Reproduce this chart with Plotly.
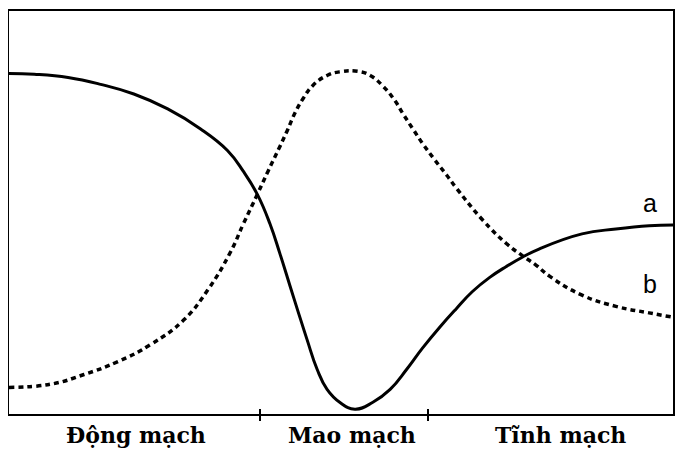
import plotly.graph_objects as go

# curve a (solid), x and y in 0..100 of the frame
a_x = [0, 3.8, 8.9, 13.8, 18.8, 23.9, 28.8, 32.9, 35.3, 37.4, 39.3, 40.8, 42.3, 43.5,
       44.9, 46.4, 47.9, 49.8, 52.1, 54.8, 57.4, 59.9, 62.3, 64.9, 67.4, 69.8, 72.4,
       74.9, 77.3, 79.9, 86.3, 91.4, 96.4, 100]
a_y = [84.5, 84.3, 83.5, 81.8, 79.4, 75.7, 70.8, 65.4, 60.2, 54.5, 47.2, 39.8, 31.9, 25.6,
       18.4, 11.1, 6.1, 2.9, 1.2, 2.9, 6.1, 11.1, 16.4, 21.6, 26.2, 30.4, 33.9,
       36.6, 38.9, 41.0, 44.7, 45.9, 46.7, 46.9]

# curve b (dotted)
b_x = [0, 6.3, 11.3, 16.4, 21.3, 26.3, 29.9, 33.3, 35.3, 37.4, 39.0, 40.8, 41.9, 43.1,
       44.3, 45.8, 47.9, 49.8, 52.6, 54.4, 56.3, 58.1, 59.3, 60.8, 62.3, 64.1, 65.9,
       67.4, 71.3, 74.9, 77.3, 79.4, 81.4, 86.3, 91.4, 96.4, 99.7]
b_y = [6.6, 7.4, 9.8, 13.0, 17.2, 23.3, 30.7, 40.0, 47.2, 54.5, 60.2, 66.4, 70.3, 74.8,
       78.3, 81.6, 84.0, 84.9, 85.0, 84.0, 81.4, 77.8, 74.6, 70.8, 67.1, 63.1, 59.3,
       56.0, 48.2, 42.3, 39.3, 36.9, 34.2, 29.5, 26.7, 25.1, 24.1]

# section boundaries and section names
bounds = [37.8, 63.1]
sections = ["Động mạch", "Mao mạch", "Tĩnh mạch"]
section_x = [19.2, 51.7, 83.0]

# curve names at the right
curve_names = ["a", "b"]
curve_name_x = [96.5, 96.5]
curve_name_y = [52.3, 32.3]

fig = go.Figure()

fig.add_trace(go.Scatter(x=a_x, y=a_y, mode="lines",
                         line=dict(color="black", width=3, shape="spline", smoothing=1.3),
                         showlegend=False, hoverinfo="skip"))
fig.add_trace(go.Scatter(x=b_x, y=b_y, mode="lines",
                         line=dict(color="black", width=3.5, dash="5px,4px", shape="spline", smoothing=1.3),
                         showlegend=False, hoverinfo="skip"))
# invisible trace on second x axis so its inner ticks are drawn
fig.add_trace(go.Scatter(x=[0, 100], y=[0, 0], xaxis="x2", mode="lines",
                         line=dict(color="rgba(0,0,0,0)"), showlegend=False, hoverinfo="skip"))

annots = []
for name, x in zip(sections, section_x):
    annots.append(dict(x=x, y=0, xref="x", yref="paper", text=name, showarrow=False,
                       yanchor="top", yshift=-6,
                       font=dict(family="DejaVu Serif", size=22, color="black", weight="bold")))
for name, x, y in zip(curve_names, curve_name_x, curve_name_y):
    annots.append(dict(x=x, y=y, xref="x", yref="y", text=name, showarrow=False,
                       font=dict(family="Liberation Sans", size=25, color="black")))

# page body has an 8px margin, so the figure is sized to fit inside the window
fig.update_layout(
    width=674, height=446,
    margin=dict(l=1, r=9, t=1, b=40),
    paper_bgcolor="white", plot_bgcolor="white",
    annotations=annots,
    xaxis=dict(range=[0, 100], showgrid=False, zeroline=False, showline=True, mirror=True,
               linecolor="black", linewidth=2, tickvals=bounds, ticktext=["", ""],
               ticks="outside", ticklen=5, tickwidth=2, tickcolor="black"),
    xaxis2=dict(range=[0, 100], overlaying="x", side="bottom", showgrid=False, zeroline=False,
                showline=False, tickvals=bounds, ticktext=["", ""],
                ticks="inside", ticklen=5, tickwidth=2, tickcolor="black"),
    yaxis=dict(range=[0, 100], showgrid=False, zeroline=False, showline=True, mirror=True,
               linecolor="black", linewidth=2, showticklabels=False, ticks=""),
)

fig.write_html("out.html")
